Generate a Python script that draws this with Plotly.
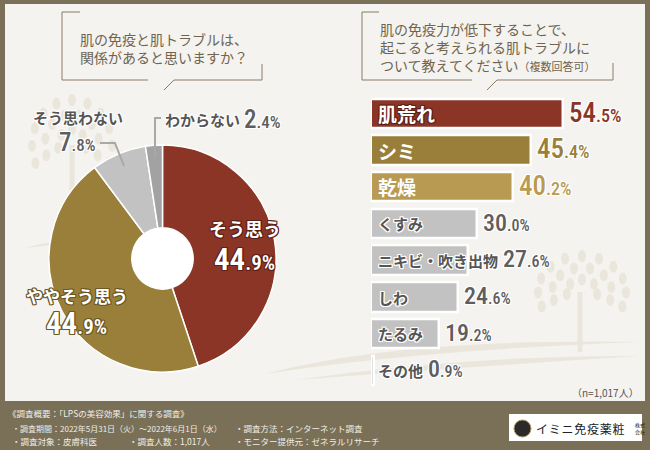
import math
import plotly.graph_objects as go

# 左：円グラフ
pie_labels = ["そう思う", "ややそう思う", "そう思わない", "わからない"]
pie_values = [44.9, 44.9, 7.8, 2.4]
pie_colors = ["#8a3526", "#9a7f3b", "#c2c2c2", "#a2a2a2"]

# 右：棒グラフ
bar_labels = ["肌荒れ", "シミ", "乾燥", "くすみ", "ニキビ・吹き出物", "しわ", "たるみ", "その他"]
bar_values = [54.5, 45.4, 40.2, 30.0, 27.6, 24.6, 19.2, 0.9]
bar_colors = ["#8a3526", "#9a7f3b", "#b99a52"] + ["#c2c2c2"] * 5
value_colors = ["#8a3526", "#9a7f3b", "#b99a52"] + ["#5e5e5e"] * 5

W, H = 650, 450
FRAME = "#7a7058"
PANEL = "#f4f3ef"
DECO = "#eae6dc"
JP = "Noto Sans CJK JP"
NUM = "Roboto Condensed, DejaVu Sans Condensed, Roboto, sans-serif"


def px(x):
    return x / W


def py(y):
    return 1 - y / H


def path(points):
    return "M " + " L ".join(f"{px(x):.4f},{py(y):.4f}" for x, y in points)


def outline(color, w=1):
    s = []
    for dx in (-w, 0, w):
        for dy in (-w, 0, w):
            if dx or dy:
                s.append(f"{dx}px {dy}px 0 {color}")
    return ", ".join(s)


fig = go.Figure()

fig.add_trace(go.Pie(
    labels=pie_labels, values=pie_values, sort=False, direction="clockwise",
    rotation=0, hole=0.27, marker=dict(colors=pie_colors, line=dict(color="white", width=1.5)),
    textinfo="none", showlegend=False, hoverinfo="label+percent",
    domain=dict(x=[px(48), px(277)], y=[py(372), py(145)]),
))

fig.add_trace(go.Bar(
    x=bar_values, y=bar_labels, orientation="h", width=0.8,
    marker=dict(color=bar_colors, line=dict(color="white", width=2.5)),
    showlegend=False, hoverinfo="x+y",
))

scale = (645 - 371) / 77.8  # px per %

shapes = []
# 背景パネル
shapes.append(dict(type="rect", xref="paper", yref="paper", x0=px(5), x1=px(645), y0=py(401), y1=py(4),
                   fillcolor=PANEL, line=dict(width=0), layer="below"))

# 飾り：流れる曲線
swooshes = [
    [(265, 374), (400, 338), (640, 342), (420, 350)],
    [(295, 380), (470, 355), (640, 356), (480, 366)],
    [(25, 248), (60, 238), (110, 236), (60, 244)],
]
for (x0, y0), (x1, y1), (x2, y2), (x3, y3) in swooshes:
    d = (f"M {px(x0):.4f},{py(y0):.4f} Q {px(x1):.4f},{py(y1):.4f} {px(x2):.4f},{py(y2):.4f} "
         f"Q {px(x3):.4f},{py(y3):.4f} {px(x0):.4f},{py(y0):.4f} Z")
    shapes.append(dict(type="path", xref="paper", yref="paper", path=d,
                       fillcolor=DECO, line=dict(width=0), layer="below"))


# 飾り：木
def tree(tx, base, cx, cy, rx, ry):
    shapes.append(dict(type="path", xref="paper", yref="paper",
                       path=path([(tx, base), (tx, cy)]), line=dict(color=DECO, width=5), layer="below"))
    for k, n in ((0.35, 5), (0.68, 8), (1.0, 11)):
        for i in range(n):
            ang = math.radians(-215 + (i + 0.5) * 250 / n)
            lx = cx + rx * k * math.cos(ang)
            ly = cy + ry * k * math.sin(ang)
            shapes.append(dict(type="circle", xref="paper", yref="paper",
                               x0=px(lx - 4), x1=px(lx + 4), y0=py(ly + 6), y1=py(ly - 6),
                               fillcolor=DECO, line=dict(width=0), layer="below"))


tree(580, 352, 582, 292, 44, 36)
tree(72, 205, 72, 145, 40, 45)

# 吹き出し
bubble_color = "#8a7c60"
for pts in ([(80, 12), (62, 12), (62, 80), (148, 80)],
            [(164, 90), (174, 80), (262, 80), (262, 64)],
            [(379, 12), (362, 12), (362, 80), (472, 80)],
            [(487, 90), (497, 80), (613, 80), (613, 63)]):
    shapes.append(dict(type="path", xref="paper", yref="paper", path=path(pts),
                       line=dict(color=bubble_color, width=1)))

# 引き出し線
shapes.append(dict(type="path", xref="paper", yref="paper",
                   path=path([(100, 143), (115, 143), (124, 166)]), line=dict(color="#a8a8a8", width=2)))
shapes.append(dict(type="path", xref="paper", yref="paper",
                   path=path([(161, 118), (155, 118), (155, 158)]), line=dict(color="#a8a8a8", width=2)))

# 円グラフ中央の白
shapes.append(dict(type="circle", xref="paper", yref="paper", x0=px(132), x1=px(193), y0=py(289), y1=py(228),
                   fillcolor="white", line=dict(width=0), layer="below"))

# ロゴ枠
shapes.append(dict(type="rect", xref="paper", yref="paper", x0=px(509), x1=px(642), y0=py(441), y1=py(414),
                   fillcolor="white", line=dict(width=0)))
shapes.append(dict(type="circle", xref="paper", yref="paper", x0=px(514), x1=px(531), y0=py(437), y1=py(420),
                   fillcolor="#2a2a2a", line=dict(color="#b09a60", width=1)))

annotations = []


def note(x, y, text, size, color, xanchor="left", shadow=None, family=JP, weight="normal", **kw):
    annotations.append(dict(xref="paper", yref="paper", x=px(x), y=py(y), text=text, showarrow=False,
                            xanchor=xanchor, yanchor="middle",
                            font=dict(family=family, size=size, color=color, weight=weight,
                                      shadow=shadow or "none"), **kw))


q_color = "#6f6450"
note(78, 48, "肌の免疫と肌トラブルは、<br>関係があると思いますか？", 14, q_color, align="left")
note(378, 47, "肌の免疫力が低下することで、<br>起こると考えられる肌トラブルに<br>"
              "ついて教えてください<span style='font-size:11px'>（複数回答可）</span>", 14, q_color, align="left")


def num_text(v, big, small):
    a, b = f"{v:.1f}".split(".")
    return f"<span style='font-size:{big}px'>{a}</span><span style='font-size:{small}px'>.{b}%</span>"


# 円グラフのラベル
note(245, 228, "<b>そう思う</b>", 18, "white", xanchor="center", shadow=outline("#5e2016"))
note(244, 259, num_text(pie_values[0], 31, 21), 31, "white", xanchor="center",
     shadow=outline("#5e2016"), family=NUM, weight=600)
note(77, 295, "<b>ややそう思う</b>", 17, "white", xanchor="center", shadow=outline("#6b5825"))
note(76, 323, num_text(pie_values[1], 31, 21), 31, "white", xanchor="center",
     shadow=outline("#6b5825"), family=NUM, weight=600)
note(78, 117, "<b>そう思わない</b>", 15, "#555555", xanchor="center", shadow=outline("white"))
note(77, 143, num_text(pie_values[2], 25, 17), 25, "#5e5e5e", xanchor="center", shadow=outline("white"),
     family=NUM, weight=500)
note(163, 119, "<b>わからない</b>", 15, "#555555", shadow=outline("white"))
note(242, 119, num_text(pie_values[3], 25, 17), 25, "#5e5e5e", shadow=outline("white"), family=NUM, weight=500)

# 棒グラフのラベル
for i, (lab, v) in enumerate(zip(bar_labels, bar_values)):
    top = i < 3
    fs = 19 if top else 15
    if top:
        font = dict(family=JP, size=fs, color="white", shadow=outline(value_colors[i] if i else "#5e2016"))
    else:
        font = dict(family=JP, size=fs, color="#555555", shadow=outline("white"))
    annotations.append(dict(xref="x", yref="y", x=0, y=lab, text=f"<b>{lab}</b>", showarrow=False,
                            xanchor="left", xshift=5, font=font))
    text_end = (len(lab) * fs + 6) / scale
    annotations.append(dict(xref="x", yref="y", x=max(v, text_end), y=lab, showarrow=False,
                            xanchor="left", xshift=4, yshift=1,
                            text=num_text(v, 27 if top else 24, 18 if top else 16),
                            font=dict(family=NUM, size=27, color=value_colors[i], weight=500,
                                      shadow=outline("white"))))

note(641, 392, "（n=1,017人）", 10, "#555555", xanchor="right")

# フッター
ft = "#f1eee4"
note(6, 413, "《調査概要：「LPSの美容効果」に関する調査》", 8.5, ft)
note(10, 428, "・調査期間：2022年5月31日（火）～2022年6月1日（水）", 8, ft)
note(233, 428, "・調査方法：インターネット調査", 8.5, ft)
note(10, 441, "・調査対象：皮膚科医", 8.5, ft)
note(127, 441, "・調査人数：1,017人", 8.5, ft)
note(233, 441, "・モニター提供元：ゼネラルリサーチ", 8.5, ft)
note(534, 428, "\u200a".join("イミニ免疫薬粧"), 12, "#222222")
note(633, 428, "株式<br>会社", 5, "#222222")

fig.update_layout(
    width=W, height=H, margin=dict(l=0, r=0, t=0, b=0),
    paper_bgcolor=FRAME, plot_bgcolor="rgba(0,0,0,0)",
    xaxis=dict(domain=[px(371), px(645)], range=[0, 77.8], visible=False, fixedrange=True),
    yaxis=dict(domain=[py(388.8), py(95.2)], type="category", categoryarray=bar_labels,
               range=[7.5, -0.5], visible=False, fixedrange=True),
    shapes=shapes, annotations=annotations, bargap=0,
)

fig.write_html("out.html", config={"displayModeBar": False},
               post_script="document.body.style.margin='0';")
